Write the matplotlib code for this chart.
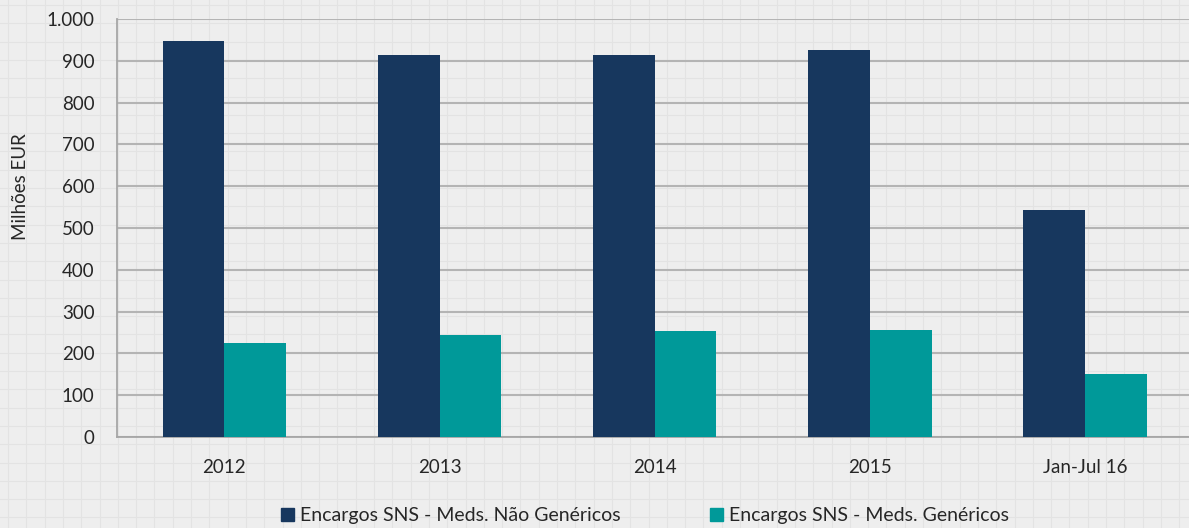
import numpy as np
import matplotlib.pyplot as plt
from matplotlib.patches import Patch
from matplotlib.ticker import FuncFormatter

# Dados (milhões de EUR)
categories = ['2012', '2013', '2014', '2015', 'Jan-Jul 16']
nao_genericos = [947, 914, 914, 926, 543]
genericos = [225, 244, 254, 256, 150]
labels = ['Encargos SNS - Meds. Não Genéricos', 'Encargos SNS - Meds. Genéricos']

plt.rcParams['font.family'] = ['Lato', 'DejaVu Sans']

W, H = 1189, 528
fig = plt.figure(figsize=(W / 100, H / 100), dpi=100)
fig.patch.set_facecolor('#eeeeee')

# fundo tipo papel quadriculado
bg = fig.add_axes([0, 0, 1, 1], zorder=-1)
bg.set_xlim(0, W)
bg.set_ylim(H, 0)
bg.axis('off')
for xv in np.arange(8, W, 18.3):
    bg.axvline(xv, color='#e3e3e3', lw=0.8)
for yv in np.arange(5, H, 18.3):
    bg.axhline(yv, color='#e3e3e3', lw=0.8)

step = 215.2
ax = fig.add_axes([116.7 / W, 1 - 437 / H, 5 * step / W, 418 / H])
ax.set_facecolor('none')

x = np.arange(len(categories))
w = 0.287
ax.bar(x - w / 2, nao_genericos, w, color='#17375e', zorder=3)
ax.bar(x + w / 2, genericos, w, color='#009999', zorder=3)

ax.set_xlim(-0.5, len(categories) - 0.5)
ax.set_ylim(0, 1000)
ax.set_yticks(range(0, 1001, 100))
ax.yaxis.set_major_formatter(FuncFormatter(lambda v, p: f'{int(v):,}'.replace(',', '.')))
ax.set_xticks(x)
ax.set_xticklabels(categories)
ax.tick_params(axis='both', length=0, labelsize=13.5, colors='#262626')
ax.tick_params(axis='y', pad=16)
ax.tick_params(axis='x', pad=16)
ax.grid(axis='y', color='#b4b4b4', lw=1.5, zorder=1)
for s in ['top', 'right']:
    ax.spines[s].set_visible(False)
for s in ['left', 'bottom']:
    ax.spines[s].set_color('#a6a6a6')
    ax.spines[s].set_linewidth(1.3)

fig.text(21 / W, 1 - 187 / H, 'Milhões EUR', rotation=90, ha='center', va='center',
         fontsize=13.5, color='#262626')

handles = [Patch(color='#17375e'), Patch(color='#009999')]
fig.legend(handles, labels, loc='center', bbox_to_anchor=(645 / W, 1 - 516 / H),
           ncol=2, frameon=False, fontsize=14, handlelength=0.65, handleheight=0.65,
           handletextpad=0.3, columnspacing=4.6, labelcolor='#262626')

fig.savefig('out.png', dpi=100, facecolor=fig.get_facecolor())
